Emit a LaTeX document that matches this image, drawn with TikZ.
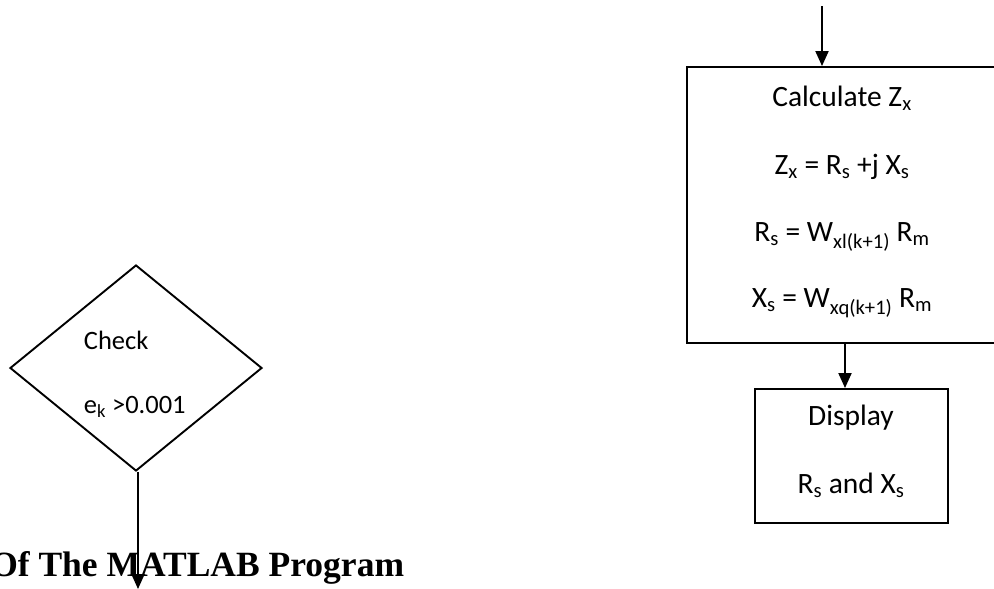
\documentclass[tikz,border=0pt]{standalone}
\usepackage{fontspec}
\setmainfont{Carlito}
\newfontfamily\titlefont{Liberation Serif}
\usetikzlibrary{arrows.meta,shapes.geometric}
\begin{document}
\begin{tikzpicture}[x=1pt,y=-1pt,
  line width=1.9pt,
  arr/.style={-{Triangle[width=13pt,length=15pt]}},
  boxnode/.style={draw,rectangle,inner sep=0pt},
  txt/.style={inner sep=0pt,font=\fontsize{29.5}{34}\selectfont},
  dtxt/.style={inner sep=0pt,font=\fontsize{26.5}{31}\selectfont},
]
\useasboundingbox (0,0) rectangle (994,589);
% diamond
\node[draw,diamond,inner sep=0pt,minimum width=252pt,minimum height=206pt,aspect=1.22] (dec) at (136,368) {};
\node[dtxt,anchor=west] (chk) at (83,340) {Check};
\node[dtxt,anchor=west] (ek) at (83,407) {e\textsubscript{k} >0.001};
\coordinate (dend) at (138,589);
% title
\node[inner sep=0pt,anchor=base east,font=\titlefont\bfseries\fontsize{35.5}{40}\selectfont] (title) at (405,576) {Of The MATLAB Program};
\draw[arr] (dec.south -| dend) -- (dend);
% calc box
\node[boxnode,minimum width=310pt,minimum height=276pt] (calc) at (842,205) {};
\node[txt] (l1) at (842,98) {Calculate Z\textsubscript{x}};
\node[txt] (l2) at (842,167) {Z\textsubscript{x} = R\textsubscript{s} +j X\textsubscript{s}};
\node[txt] (l3) at (842,237) {R\textsubscript{s} = W\textsubscript{xl(k+1)} R\textsubscript{m}};
\node[txt] (l4) at (842,303) {X\textsubscript{s} = W\textsubscript{xq(k+1)} R\textsubscript{m}};
\coordinate (top) at (822,6);
\draw[arr] (top) -- (top |- calc.north);
% display box
\node[boxnode,minimum width=193pt,minimum height=134pt] (disp) at (851.5,456) {};
\node[txt] (d1) at (851,418) {Display};
\node[txt] (d2) at (851,485) {R\textsubscript{s} and X\textsubscript{s}};
\coordinate (mid) at (845,0);
\draw[arr] (calc.south -| mid) -- (disp.north -| mid);
\end{tikzpicture}
\end{document}
